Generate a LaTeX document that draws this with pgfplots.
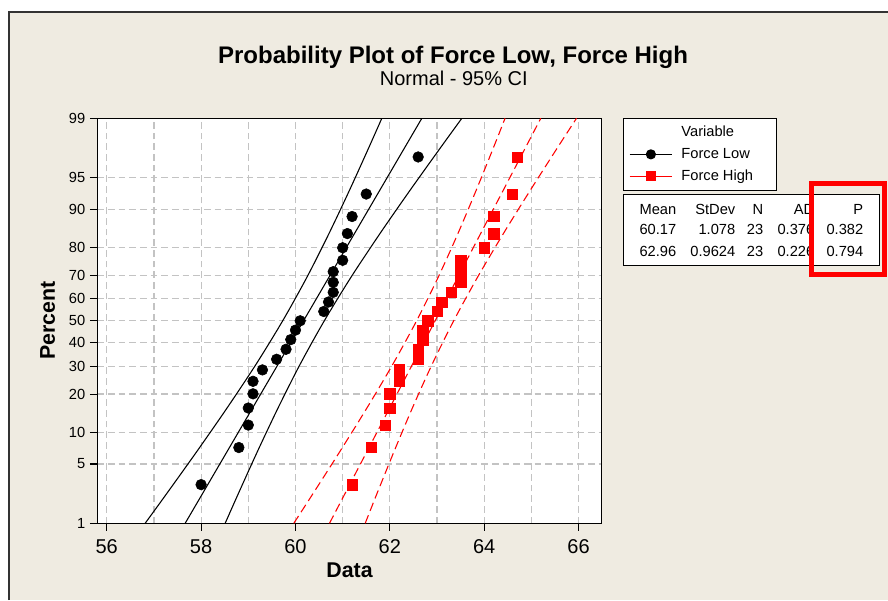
\documentclass[border=0pt]{standalone}
\usepackage{pgfplots}
\pgfplotsset{compat=1.18}
\usepackage{pgfplotstable}
\usepackage{fontspec}
\setmainfont{Liberation Sans}
\definecolor{mtbg}{RGB}{239,235,225}
\definecolor{gridc}{RGB}{195,195,195}

% observed data: x value, normal score of plotting position
\pgfplotstableread{
x z
58.0 -1.882
58.8 -1.456
59.0 -1.198
59.0 -1.002
59.1 -0.839
59.1 -0.695
59.3 -0.564
59.6 -0.442
59.8 -0.327
59.9 -0.216
60.0 -0.107
60.1 0
60.6 0.107
60.7 0.216
60.8 0.327
60.8 0.442
60.8 0.564
61.0 0.695
61.0 0.839
61.1 1.002
61.2 1.198
61.5 1.456
62.6 1.882
}\lowdata
\pgfplotstableread{
x z
61.2 -1.882
61.6 -1.456
61.9 -1.198
62.0 -1.002
62.0 -0.839
62.2 -0.695
62.2 -0.564
62.6 -0.442
62.6 -0.327
62.7 -0.216
62.7 -0.107
62.8 0
63.0 0.107
63.1 0.216
63.3 0.327
63.5 0.442
63.5 0.564
63.5 0.695
64.0 0.839
64.2 1.002
64.2 1.198
64.6 1.456
64.7 1.882
}\highdata
% fitted line and 95% CI bands: z, lower, fit, upper
\pgfplotstableread{
z lo fit hi
-2.3263 56.814 57.662 58.510
-2.0 57.251 58.014 58.777
-1.5 57.911 58.553 59.195
-1.0 58.552 59.092 59.632
-0.5 59.164 59.631 60.098
0.0 59.729 60.170 60.611
0.5 60.242 60.709 61.176
1.0 60.708 61.248 61.788
1.5 61.145 61.787 62.429
2.0 61.563 62.326 63.089
2.3263 61.830 62.678 63.526
}\lowfit
\pgfplotstableread{
z lo fit hi
-2.3263 59.964 60.721 61.478
-2.0 60.354 61.035 61.716
-1.5 60.943 61.516 62.090
-1.0 61.516 61.998 62.479
-0.5 62.062 62.479 62.896
0.0 62.567 62.960 63.353
0.5 63.024 63.441 63.858
1.0 63.441 63.922 64.404
1.5 63.830 64.404 64.977
2.0 64.204 64.885 65.566
2.3263 64.442 65.199 65.956
}\highfit

\begin{document}
\begin{tikzpicture}
\begin{scope}[x=0.75pt,y=0.75pt]
\useasboundingbox (0,0) rectangle (888,600);
\fill[white] (0,0) rectangle (888,600);
\fill[mtbg] (9,0) rectangle (888,588);
\draw[line width=1.1pt, black!80] (9,0) -- (9,588) -- (888,588);
\node[anchor=base, font=\fontsize{18}{22}\selectfont\bfseries] at (453,536.7) {Probability Plot of Force Low, Force High};
\node[anchor=base, font=\fontsize{15}{18}\selectfont] at (453.8,514) {Normal - 95\% CI};
\end{scope}

\begin{axis}[
  at={(72.975pt,57.525pt)}, anchor=south west,
  scale only axis, width=378.3pt, height=303.75pt,
  xmin=55.8, xmax=66.49, ymin=-2.3263, ymax=2.3263,
  axis background/.style={fill=white},
  axis line style={line width=1pt, black},
  xtick={56,58,60,62,64,66},
  minor xtick={57,59,61,63,65},
  ytick={-2.3263,-1.6449,-1.2816,-0.8416,-0.5244,-0.2533,0,0.2533,0.5244,0.8416,1.2816,1.6449,2.3263},
  yticklabels={1,5,10,20,30,40,50,60,70,80,90,95,99},
  grid=both,
  major grid style={gridc, line width=0.9pt, dash pattern=on 5pt off 3pt},
  minor grid style={gridc, line width=0.9pt, dash pattern=on 5pt off 3pt},
  tick align=outside, major tick length=5.5pt, minor tick length=0pt,
  tick style={black, line width=0.8pt},
  tick pos=left,
  /pgf/number format/assume math mode=true,
  x tick label style={font=\fontsize{15}{18}\selectfont, yshift=-3pt},
  y tick label style={font=\fontsize{11}{13}\selectfont},
  xlabel={Data}, ylabel={Percent},
  xlabel style={font=\fontsize{16}{19}\selectfont\bfseries, at={(axis description cs:0.5,-0.1153)}, anchor=center},
  ylabel style={font=\fontsize{16}{19}\selectfont\bfseries, at={(axis description cs:-0.0987,0.5)}, anchor=center},
  legend image code/.code={\draw[mark repeat=2,mark phase=2,#1] plot coordinates {(0pt,0pt) (16pt,0pt) (32pt,0pt)};},
  legend cell align=left,
  legend style={at={(axis description cs:1.0428,1)}, anchor=north west, draw=black, line width=0.6pt, fill=white,
    font=\fontsize{11}{13}\selectfont, inner xsep=4pt, inner ysep=3.5pt, row sep=3pt,
    nodes={inner sep=1.5pt, text height=8pt, text depth=2.5pt},
    /tikz/every odd column/.append style={column sep=5pt}},
]
\addlegendimage{empty legend}\addlegendentry{Variable}
\addlegendimage{black, line width=0.8pt, mark=*, mark size=3.4pt}\addlegendentry{Force Low}
\addlegendimage{red, line width=0.8pt, mark=square*, mark size=3.3pt, mark options={solid}}\addlegendentry{Force High\hspace*{12pt}}

\addplot[forget plot, black, line width=0.8pt, smooth] table[x=lo, y=z] {\lowfit};
\addplot[forget plot, black, line width=0.8pt] table[x=fit, y=z] {\lowfit};
\addplot[forget plot, black, line width=0.8pt, smooth] table[x=hi, y=z] {\lowfit};
\addplot[forget plot, red, line width=0.8pt, smooth, dash pattern=on 6.5pt off 3.5pt] table[x=lo, y=z] {\highfit};
\addplot[forget plot, red, line width=0.8pt, dash pattern=on 6.5pt off 3.5pt] table[x=fit, y=z] {\highfit};
\addplot[forget plot, red, line width=0.8pt, smooth, dash pattern=on 6.5pt off 3.5pt] table[x=hi, y=z] {\highfit};

\addplot[forget plot, only marks, mark=*, mark size=4pt, black] table[x=x, y=z] {\lowdata};
\addplot[forget plot, only marks, mark=square*, mark size=3.9pt, red, mark options={fill=red, draw=red}] table[x=x, y=z] {\highdata};
\end{axis}

\begin{scope}[x=0.75pt,y=0.75pt]
% statistics table
\draw[line width=0.6pt, fill=white] (623.3,405.7) rectangle (879.3,335);
\begin{scope}[every node/.style={anchor=base east, inner sep=0pt, font=\fontsize{11}{13}\selectfont}]
\node at (676.5,385.7) {Mean};
\node at (735.5,385.7) {StDev};
\node at (763.5,385.7) {N};
\node at (814.5,385.7) {AD};
\node at (863.5,385.7) {P};
\node at (676.5,365.4) {60.17};
\node at (735.5,365.4) {1.078};
\node at (763.5,365.4) {23};
\node at (814.5,365.4) {0.376};
\node at (863.5,365.4) {0.382};
\node at (676.5,343) {62.96};
\node at (735.5,343) {0.9624};
\node at (763.5,343) {23};
\node at (814.5,343) {0.226};
\node at (863.5,343) {0.794};
\end{scope}
\draw[red, line width=3.75pt] (811.5,416.8) rectangle (884.2,325.8);
\end{scope}
\end{tikzpicture}
\end{document}
